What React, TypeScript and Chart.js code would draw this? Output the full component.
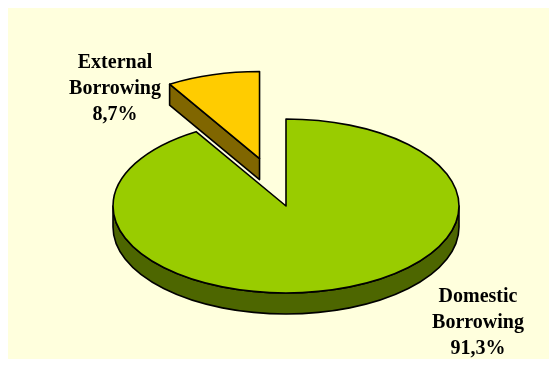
import React, { useEffect, useRef } from "react";
import { Chart, registerables } from "chart.js";

Chart.register(...registerables);

// ---- data ----
const categories = ["Domestic Borrowing", "External Borrowing"];
const labelLines = [
  ["Domestic", "Borrowing"],
  ["External", "Borrowing"],
];
const shares = [91.3, 8.7];
const exploded = [false, true];

// ---- style ----
const TOP_COLORS = ["#99CC00", "#FFCC00"];
const SIDE_COLORS = ["#4D6600", "#806600"];
const BG = "#FFFFDD";
const TILT = 0.503;
const DEPTH = 21;
const EXPLODE = 98;
const RADIUS = 173;
const LABEL_POS = [
  { x: 470, y: 294 },
  { x: 107, y: 60 },
];
const LINE_H = 26;
const FONT = 'bold 20px "Liberation Serif", "Times New Roman", serif';

function fmt(v: number) {
  return v.toFixed(1).replace(".", ",") + "%";
}

function drawSlice(
  ctx: CanvasRenderingContext2D,
  cx: number,
  cy: number,
  r: number,
  s: number,
  e: number,
  top: string,
  side: string
) {
  const ry = r * TILT;
  const P = (a: number, d: number) => [cx + r * Math.cos(a), cy + ry * Math.sin(a) + d];
  ctx.lineWidth = 1.6;
  ctx.strokeStyle = "#000";
  ctx.lineJoin = "round";

  const faces: number[] = [];
  if (-Math.cos(s) > 1e-6) faces.push(s);
  if (Math.cos(e) > 1e-6) faces.push(e);
  for (const a of faces) {
    const [px, py] = P(a, 0);
    ctx.beginPath();
    ctx.moveTo(cx, cy);
    ctx.lineTo(px, py);
    ctx.lineTo(px, py + DEPTH);
    ctx.lineTo(cx, cy + DEPTH);
    ctx.closePath();
    ctx.fillStyle = side;
    ctx.fill();
    ctx.stroke();
  }

  for (let k = -2; k <= 2; k++) {
    const a0 = Math.max(s, 2 * Math.PI * k);
    const a1 = Math.min(e, 2 * Math.PI * k + Math.PI);
    if (a1 - a0 > 1e-6) {
      ctx.beginPath();
      ctx.ellipse(cx, cy, r, ry, 0, a0, a1, false);
      ctx.ellipse(cx, cy + DEPTH, r, ry, 0, a1, a0, true);
      ctx.closePath();
      ctx.fillStyle = side;
      ctx.fill();
      ctx.stroke();
    }
  }

  ctx.beginPath();
  ctx.moveTo(cx, cy);
  ctx.ellipse(cx, cy, r, ry, 0, s, e, false);
  ctx.closePath();
  ctx.fillStyle = top;
  ctx.fill();
  ctx.stroke();
}

const pie3d = {
  id: "pie3d",
  beforeDatasetsDraw(chart: any) {
    const ctx: CanvasRenderingContext2D = chart.ctx;
    const meta = chart.getDatasetMeta(0);
    const items = meta.data.map((el: any, i: number) => {
      const s = el.startAngle;
      const e = el.endAngle;
      const mid = (s + e) / 2;
      const off = exploded[i] ? EXPLODE : 0;
      return {
        i,
        s,
        e,
        mid,
        cx: el.x + Math.cos(mid) * off,
        cy: el.y + Math.sin(mid) * off * TILT,
        r: el.outerRadius,
      };
    });
    items.sort((a: any, b: any) => Math.sin(a.mid) - Math.sin(b.mid));
    ctx.save();
    for (const it of items) {
      drawSlice(ctx, it.cx, it.cy, it.r, it.s, it.e, TOP_COLORS[it.i], SIDE_COLORS[it.i]);
    }
    ctx.restore();
    return false;
  },
  afterDraw(chart: any) {
    const ctx: CanvasRenderingContext2D = chart.ctx;
    ctx.save();
    ctx.font = FONT;
    ctx.fillStyle = "#000";
    ctx.textAlign = "center";
    ctx.textBaseline = "alphabetic";
    shares.forEach((v, i) => {
      const lines = [...labelLines[i], fmt(v)];
      lines.forEach((t, j) => {
        ctx.fillText(t, LABEL_POS[i].x, LABEL_POS[i].y + j * LINE_H);
      });
    });
    ctx.restore();
  },
};

export default function App() {
  const ref = useRef<HTMLCanvasElement | null>(null);
  useEffect(() => {
    if (!ref.current) return;
    const chart = new Chart(ref.current, {
      type: "pie",
      data: {
        labels: categories,
        datasets: [
          {
            data: shares,
            backgroundColor: TOP_COLORS,
            borderWidth: 0,
            radius: RADIUS,
          } as any,
        ],
      },
      options: {
        animation: false,
        responsive: false,
        maintainAspectRatio: false,
        events: [],
        layout: { padding: { left: 15, right: 0, top: 45, bottom: 0 } },
        plugins: {
          legend: { display: false },
          tooltip: { enabled: false },
        },
      },
      plugins: [pie3d as any],
    });
    return () => chart.destroy();
  }, []);
  return (
    <div style={{ width: 541, height: 351, background: BG }}>
      <canvas ref={ref} width={541} height={351} style={{ display: "block" }} />
    </div>
  );
}
